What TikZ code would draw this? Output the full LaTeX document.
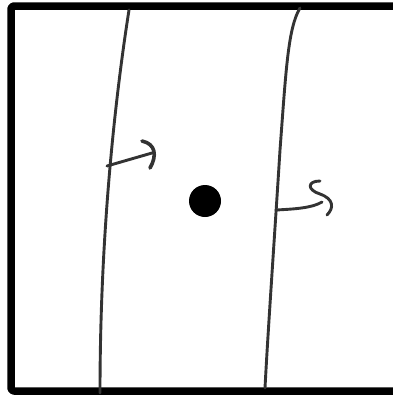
\documentclass[tikz,border=0pt]{standalone}
\begin{document}
\begin{tikzpicture}[x=1pt, y=-1pt, line join=round, line cap=round]
	\def\strokecolor{black!80}
	\useasboundingbox (0,0) rectangle (393,399);
	% frame, open on the right
	\draw[line width=7.5pt, rounded corners=3pt] (400,6) -- (11,6) -- (11,391) -- (400,391);
	% the two walls
	\coordinate (LT) at (129,10);
	\coordinate (LB) at (100,393);
	\coordinate (RT) at (300,8);
	\coordinate (RM) at (280,150);
	\coordinate (RB) at (265,388);
	\draw[\strokecolor, line width=2.9pt] (LT) .. controls (118,80) and (100,220) .. (LB);
	\draw[\strokecolor, line width=2.9pt] (RT) .. controls (288,28) and (286,70) .. (RM)
		.. controls (275,230) and (268,330) .. (RB);
	% arrows
	\coordinate (LA) at (107,166);
	\coordinate (LH) at (152,153);
	\draw[\strokecolor, line width=2.9pt] (LA) -- (LH);
	\draw[\strokecolor, line width=3.6pt] (142,141) .. controls (156,144) and (157,156) .. (150,168);
	\coordinate (RA) at (276,210);
	\coordinate (RH) at (322,202);
	\draw[\strokecolor, line width=2.9pt] (RA) .. controls (295,209) and (312,208) .. (RH);
	\draw[\strokecolor, line width=2.9pt] (320,181) .. controls (307,181) and (307,190) .. (320,194)
		.. controls (334,199) and (334,208) .. (327,215);
	% the dot
	\node[circle, fill=black, minimum size=32pt, inner sep=0pt] (dot) at (205,201) {};
\end{tikzpicture}
\end{document}
